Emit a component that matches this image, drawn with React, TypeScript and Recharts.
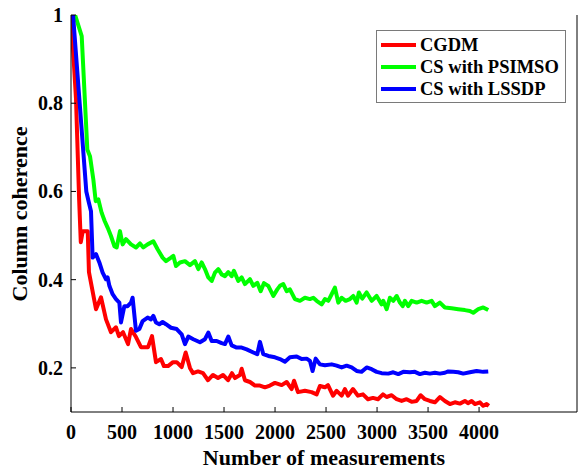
import React from "react";
import { LineChart, Line, XAxis, YAxis, Legend } from "recharts";

// [measurements, column coherence]
const cgdm: [number, number][] = [
  [0, 1.0], [49, 0.81], [80, 0.58], [96, 0.485], [115, 0.51], [164, 0.51], [176, 0.417],
  [245, 0.333], [294, 0.36], [343, 0.31], [392, 0.281], [441, 0.292], [470, 0.272],
  [510, 0.281], [559, 0.254], [588, 0.288], [637, 0.27], [686, 0.247], [755, 0.247],
  [794, 0.272], [833, 0.213], [882, 0.22], [911, 0.204], [951, 0.204], [1000, 0.213],
  [1036, 0.213], [1085, 0.202], [1124, 0.235], [1166, 0.2], [1196, 0.188], [1245, 0.192],
  [1294, 0.188], [1343, 0.172], [1392, 0.184], [1441, 0.177], [1490, 0.184], [1539, 0.172],
  [1578, 0.188], [1607, 0.177], [1656, 0.184], [1673, 0.198], [1705, 0.172], [1754, 0.168],
  [1803, 0.16], [1852, 0.16], [1901, 0.156], [1950, 0.16], [1999, 0.166], [2065, 0.161],
  [2114, 0.168], [2163, 0.152], [2186, 0.171], [2225, 0.145], [2293, 0.148], [2358, 0.145],
  [2408, 0.14], [2440, 0.159], [2489, 0.156], [2519, 0.161], [2568, 0.137], [2604, 0.148],
  [2653, 0.137], [2685, 0.152], [2715, 0.137], [2764, 0.152], [2813, 0.137], [2862, 0.14],
  [2911, 0.129], [2960, 0.132], [3009, 0.129], [3058, 0.14], [3094, 0.134], [3143, 0.138],
  [3192, 0.129], [3241, 0.125], [3290, 0.129], [3339, 0.123], [3388, 0.125], [3427, 0.138],
  [3469, 0.129], [3518, 0.125], [3567, 0.122], [3616, 0.134], [3665, 0.125], [3714, 0.118],
  [3763, 0.122], [3812, 0.119], [3861, 0.125], [3891, 0.12], [3927, 0.125], [3959, 0.118],
  [4008, 0.122], [4041, 0.114], [4074, 0.118], [4096, 0.114],
];

const psimso: [number, number][] = [
  [40, 1.0], [105, 0.952], [160, 0.695], [186, 0.68], [219, 0.627], [242, 0.578],
  [268, 0.582], [300, 0.552], [330, 0.533], [359, 0.518], [392, 0.499], [425, 0.476],
  [448, 0.473], [480, 0.51], [506, 0.48], [539, 0.492], [588, 0.48], [637, 0.473],
  [676, 0.482], [709, 0.473], [751, 0.48], [807, 0.487], [849, 0.469], [898, 0.45],
  [931, 0.442], [980, 0.45], [1003, 0.454], [1029, 0.431], [1068, 0.439], [1117, 0.442],
  [1166, 0.433], [1215, 0.442], [1248, 0.424], [1281, 0.439], [1313, 0.424], [1346, 0.405],
  [1379, 0.397], [1411, 0.416], [1444, 0.424], [1477, 0.412], [1509, 0.408], [1542, 0.417],
  [1575, 0.408], [1597, 0.42], [1640, 0.397], [1673, 0.405], [1705, 0.39], [1754, 0.401],
  [1787, 0.386], [1826, 0.393], [1859, 0.374], [1891, 0.392], [1934, 0.386], [1983, 0.363],
  [2022, 0.378], [2048, 0.386], [2081, 0.39], [2114, 0.374], [2146, 0.378], [2195, 0.356],
  [2244, 0.352], [2293, 0.359], [2342, 0.356], [2375, 0.359], [2408, 0.352], [2457, 0.344],
  [2489, 0.356], [2522, 0.352], [2555, 0.367], [2587, 0.382], [2620, 0.348], [2653, 0.359],
  [2692, 0.352], [2734, 0.356], [2767, 0.363], [2800, 0.348], [2822, 0.371], [2855, 0.357],
  [2898, 0.371], [2947, 0.352], [2996, 0.363], [3045, 0.344], [3061, 0.352], [3094, 0.333],
  [3126, 0.359], [3159, 0.352], [3192, 0.363], [3224, 0.348], [3251, 0.34], [3273, 0.352],
  [3306, 0.34], [3339, 0.352], [3388, 0.348], [3437, 0.352], [3486, 0.348], [3535, 0.352],
  [3567, 0.34], [3616, 0.348], [3665, 0.337], [3731, 0.335], [3796, 0.333], [3861, 0.331],
  [3910, 0.329], [3943, 0.325], [3992, 0.333], [4041, 0.337], [4090, 0.331],
];

const lssdp: [number, number][] = [
  [20, 1.0], [150, 0.6], [175, 0.575], [196, 0.555], [212, 0.45], [245, 0.458],
  [278, 0.439], [310, 0.416], [343, 0.401], [359, 0.405], [376, 0.386], [408, 0.367],
  [441, 0.356], [474, 0.348], [490, 0.303], [523, 0.34], [555, 0.34], [588, 0.348],
  [604, 0.359], [637, 0.284], [670, 0.288], [702, 0.306], [751, 0.314], [784, 0.31],
  [807, 0.318], [833, 0.303], [866, 0.299], [898, 0.304], [931, 0.299], [980, 0.291],
  [1036, 0.288], [1085, 0.276], [1117, 0.254], [1150, 0.271], [1199, 0.265], [1264, 0.258],
  [1313, 0.265], [1346, 0.28], [1379, 0.261], [1428, 0.261], [1477, 0.256], [1509, 0.254],
  [1542, 0.271], [1575, 0.251], [1624, 0.246], [1673, 0.246], [1722, 0.242], [1787, 0.235],
  [1826, 0.231], [1852, 0.259], [1885, 0.231], [1934, 0.227], [1999, 0.224], [2048, 0.22],
  [2097, 0.214], [2146, 0.224], [2212, 0.226], [2261, 0.22], [2310, 0.221], [2342, 0.216],
  [2368, 0.193], [2398, 0.221], [2440, 0.208], [2489, 0.206], [2555, 0.208], [2604, 0.205],
  [2653, 0.201], [2702, 0.205], [2751, 0.201], [2800, 0.193], [2849, 0.191], [2898, 0.201],
  [2947, 0.197], [2996, 0.191], [3045, 0.188], [3110, 0.187], [3159, 0.19], [3208, 0.186],
  [3257, 0.191], [3322, 0.19], [3371, 0.191], [3420, 0.186], [3469, 0.189], [3518, 0.187],
  [3567, 0.189], [3616, 0.187], [3665, 0.189], [3698, 0.192], [3747, 0.191], [3796, 0.19],
  [3845, 0.187], [3910, 0.19], [3976, 0.193], [4041, 0.191], [4090, 0.192],
];

const seriesNames = ["CGDM", "CS with PSIMSO", "CS with LSSDP"];
const xTicks = [0, 500, 1000, 1500, 2000, 2500, 3000, 3500, 4000];
const yTicks = [0.2, 0.4, 0.6, 0.8, 1];

const FONT = "'Liberation Serif', 'Times New Roman', serif";
const toRows = (pts: [number, number][]) => pts.map(([n, c]) => ({ n, c }));

const BottomTick = ({ x, y, payload }: any) => (
  <g>
    <line x1={x} x2={x} y1={y} y2={y - 5} stroke="#000" />
    <text x={x} y={y + 27} textAnchor="middle" fontFamily={FONT} fontWeight="bold" fontSize={20} fill="#000">
      {payload.value}
    </text>
  </g>
);
const TopTick = ({ x, y }: any) => <line x1={x} x2={x} y1={y} y2={y + 5} stroke="#000" />;
const LeftTick = ({ x, y, payload }: any) => (
  <g>
    <line x1={x} x2={x + 5} y1={y} y2={y} stroke="#000" />
    <text x={x - 8} y={y} dy="0.35em" textAnchor="end" fontFamily={FONT} fontWeight="bold" fontSize={20} fill="#000">
      {String(payload.value)}
    </text>
  </g>
);
const RightTick = ({ x, y }: any) => <line x1={x} x2={x - 5} y1={y} y2={y} stroke="#000" />;

// keep legend rows in plotting order instead of recharts' default sort
const LegendBox = ({ payload }: any) => {
  const rows = [...(payload || [])].sort(
    (a: any, b: any) => seriesNames.indexOf(a.value) - seriesNames.indexOf(b.value)
  );
  return (
    <div
      style={{
        border: "1px solid #7a7a7a",
        background: "#fff",
        padding: "3px 6px 2px 4px",
        fontFamily: FONT,
        fontWeight: "bold",
        fontSize: 18.5,
        color: "#000",
      }}
    >
      {rows.map((e: any) => (
        <div key={e.value} style={{ display: "flex", alignItems: "center", height: 22 }}>
          <svg width={35} height={6} style={{ marginRight: 4 }}>
            <line x1={0} x2={35} y1={3} y2={3} stroke={e.color} strokeWidth={4} />
          </svg>
          <span style={{ whiteSpace: "nowrap" }}>{e.value}</span>
        </div>
      ))}
    </div>
  );
};

export default function App() {
  return (
    <div style={{ position: "absolute", left: 0, top: 0, background: "#fff" }}>
      <LineChart width={578} height={472} margin={{ top: 15, right: 0, bottom: 0, left: 0 }}>
        <XAxis
          dataKey="n"
          type="number"
          domain={[0, 4960]}
          ticks={xTicks}
          interval={0}
          allowDataOverflow
          height={60}
          tickSize={0}
          tickMargin={0}
          tickLine={false}
          axisLine={{ stroke: "#000" }}
          tick={<BottomTick />}
          label={{
            content: () => (
              <text x={324} y={465} textAnchor="middle" fontFamily={FONT} fontWeight="bold" fontSize={22} fill="#000">
                Number of measurements
              </text>
            ),
          }}
        />
        <XAxis
          xAxisId="top"
          orientation="top"
          dataKey="n"
          type="number"
          domain={[0, 4960]}
          ticks={xTicks}
          interval={0}
          height={0}
          tickSize={0}
          tickMargin={0}
          tickLine={false}
          axisLine={{ stroke: "#000" }}
          tick={<TopTick />}
        />
        <YAxis
          type="number"
          domain={[0.1, 1]}
          ticks={yTicks}
          interval={0}
          allowDataOverflow
          width={71}
          tickSize={0}
          tickMargin={0}
          tickLine={false}
          axisLine={{ stroke: "#000" }}
          tick={<LeftTick />}
          label={{
            content: () => (
              <text
                x={27}
                y={214}
                transform="rotate(-90 27 214)"
                textAnchor="middle"
                fontFamily={FONT}
                fontWeight="bold"
                fontSize={22}
                fill="#000"
              >
                Column coherence
              </text>
            ),
          }}
        />
        <YAxis
          yAxisId="right"
          orientation="right"
          type="number"
          domain={[0.1, 1]}
          ticks={yTicks}
          interval={0}
          width={1}
          tickSize={0}
          tickMargin={0}
          tickLine={false}
          axisLine={{ stroke: "#000" }}
          tick={<RightTick />}
        />
        <Legend
          layout="horizontal"
          verticalAlign="middle"
          content={<LegendBox />}
          wrapperStyle={{ left: 376, top: 30, width: "auto" }}
        />
        <Line data={toRows(cgdm)} dataKey="c" name={seriesNames[0]} stroke="#ff0000" strokeWidth={4} dot={false} strokeLinejoin="round" isAnimationActive={false} />
        <Line data={toRows(psimso)} dataKey="c" name={seriesNames[1]} stroke="#00ff00" strokeWidth={4} dot={false} strokeLinejoin="round" isAnimationActive={false} />
        <Line data={toRows(lssdp)} dataKey="c" name={seriesNames[2]} stroke="#0000ff" strokeWidth={4} dot={false} strokeLinejoin="round" isAnimationActive={false} />
      </LineChart>
    </div>
  );
}
